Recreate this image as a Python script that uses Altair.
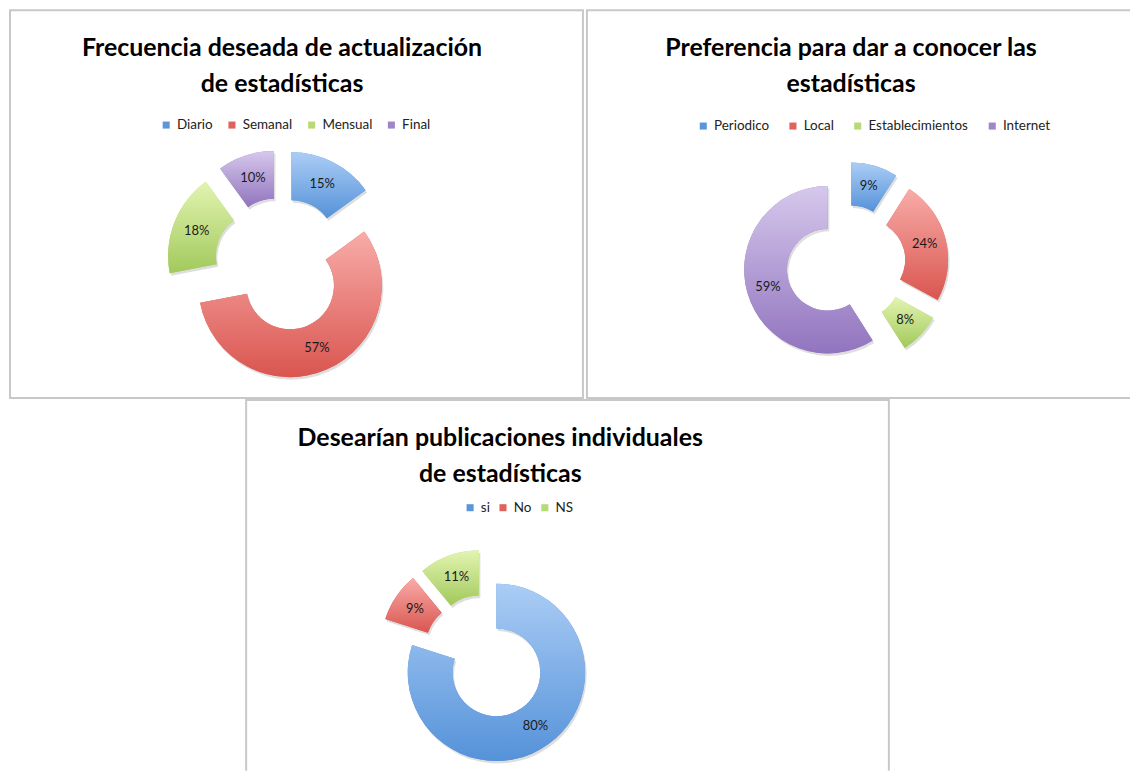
import math
import altair as alt
import pandas as pd

# ---- data ----
freq_cats = ["Diario", "Semanal", "Mensual", "Final"]
freq_vals = [15, 57, 18, 10]

pref_cats = ["Periodico", "Local", "Establecimientos", "Internet"]
pref_vals = [9, 24, 8, 59]

pub_cats = ["si", "No", "NS"]
pub_vals = [80, 9, 11]

freq_title = ["Frecuencia deseada de actualización", "de estadísticas"]
pref_title = ["Preferencia para dar a conocer las", "estadísticas"]
pub_title = ["Desearían publicaciones individuales", "de estadísticas"]

# ---- styles ----
FONT = "Lato"
BORDER = "#c8c8c8"
BLUE = ("#abcdf5", "#5592d9", "#5b96da")
RED = ("#f8aca8", "#da5550", "#e0625d")
GREEN = ("#e2f4b0", "#a2c95c", "#b8d977")
PURPLE = ("#d6c8ec", "#9174be", "#9f86c8")

freq_pal = [BLUE, RED, GREEN, PURPLE]
pref_pal = [BLUE, RED, GREEN, PURPLE]
pub_pal = [BLUE, RED, GREEN]


def grad(top, bottom):
    return {
        "gradient": "linear",
        "x1": 0, "y1": 0, "x2": 0, "y2": 1,
        "stops": [{"offset": 0, "color": top}, {"offset": 1, "color": bottom}],
    }


def frame(W, H, sides):
    one = pd.DataFrame({"t": [0]})
    out = []
    for s in sides:
        rule = alt.Chart(one).mark_rule(color=BORDER, strokeWidth=2)
        if s == "top":
            rule = rule.encode(x=alt.value(-1), x2=alt.value(W + 1), y=alt.value(0))
        elif s == "bottom":
            rule = rule.encode(x=alt.value(-1), x2=alt.value(W + 1), y=alt.value(H))
        elif s == "left":
            rule = rule.encode(x=alt.value(0), y=alt.value(0), y2=alt.value(H))
        else:
            rule = rule.encode(x=alt.value(W), y=alt.value(0), y2=alt.value(H))
        out.append(rule)
    return out


def panel(cats, vals, pal, lines, W, H, cx, cy, R, r, D, tx, ty, lx, ly, colpad, sides):
    total = float(sum(vals))
    df = pd.DataFrame({"cat": cats, "val": vals, "k": list(range(len(cats)))})
    base = (
        alt.Chart(df)
        .transform_window(end="sum(val)", sort=[alt.SortField("k")], frame=[None, 0])
        .transform_calculate(start="datum.end - datum.val")
        .transform_calculate(mid="datum.end - datum.val / 2")
        .transform_calculate(lab="datum.val + '%'")
        .transform_calculate(ang=f"datum.mid / {total} * 2 * PI")
        .transform_calculate(px=f"{cx} + {D} * sin(datum.ang)")
        .transform_calculate(py=f"{cy} - {D} * cos(datum.ang)")
        .transform_calculate(sx="datum.px + 1.5", sy="datum.py + 2.5")
    )
    tscale = alt.Scale(domain=[0, total], range=[0, 2 * math.pi])
    pos = dict(
        x=alt.X("px:Q", scale=None, axis=None),
        y=alt.Y("py:Q", scale=None, axis=None),
    )
    shadow = base.mark_arc(outerRadius=R, innerRadius=r, fill="#000000", opacity=0.13).encode(
        theta=alt.Theta("start:Q", scale=tscale, stack=None),
        theta2="end:Q",
        x=alt.X("sx:Q", scale=None, axis=None),
        y=alt.Y("sy:Q", scale=None, axis=None),
    )
    solid = base.mark_arc(outerRadius=R, innerRadius=r).encode(
        theta=alt.Theta("start:Q", scale=tscale, stack=None),
        theta2="end:Q",
        color=alt.Color(
            "cat:N",
            scale=alt.Scale(domain=cats, range=[p[2] for p in pal]),
            legend=alt.Legend(
                orient="none", legendX=lx, legendY=ly, direction="horizontal",
                columns=len(cats), title=None, symbolType="square", symbolSize=50,
                symbolStrokeWidth=0, labelFont=FONT, labelFontSize=13.5,
                labelColor="#222222", labelOffset=4, columnPadding=colpad,
            ),
        ),
        **pos,
    )
    conds = [
        {"test": f"datum.cat === '{c}'", "value": grad(p[0], p[1])}
        for c, p in zip(cats[:-1], pal[:-1])
    ]
    gfill = {"condition": conds, "value": grad(pal[-1][0], pal[-1][1])}
    shaded = base.mark_arc(outerRadius=R, innerRadius=r).encode(
        theta=alt.Theta("start:Q", scale=tscale, stack=None),
        theta2="end:Q",
        fill=gfill,
        **pos,
    )
    labels = base.mark_text(
        font=FONT, fontSize=13, color="#1a1a1a", radius=(R + r) / 2
    ).encode(
        theta=alt.Theta("mid:Q", scale=tscale, stack=None),
        text="lab:N",
        **pos,
    )
    title = alt.Chart(pd.DataFrame({"t": [0]})).mark_text(
        font=FONT, fontSize=25, fontWeight="bold", color="#000000",
        lineHeight=36, baseline="middle", align="center",
    ).encode(x=alt.value(tx), y=alt.value(ty), text=alt.value(lines))
    layers = [shadow, solid, shaded, labels, title] + frame(W, H, sides)
    return alt.layer(*layers).properties(width=W, height=H)


p1 = panel(freq_cats, freq_vals, freq_pal, freq_title,
           575, 389, 272, 255, 92, 44, 23, 273, 38, 150, 108, 12,
           ["top", "bottom", "left", "right"])
p2 = panel(pref_cats, pref_vals, pref_pal, pref_title,
           544, 389, 260, 255, 84, 41, 19, 265, 38, 110, 109, 17,
           ["top", "bottom", "left"])
p3 = panel(pub_cats, pub_vals, pub_pal, pub_title,
           645, 372, 240, 258, 89, 44, 19, 255, 38, 218, 101, 6,
           ["top", "left", "right"])

spacer = alt.Chart(pd.DataFrame({"t": [0]})).mark_point(opacity=0, size=1).encode(
    x=alt.value(100), y=alt.value(100)
).properties(width=235, height=372)

top = alt.hconcat(p1, p2, spacing=0).resolve_scale(color="independent", theta="independent")
bottom = alt.hconcat(spacer, p3, spacing=0).resolve_scale(color="independent", theta="independent")

chart = (
    alt.vconcat(top, bottom, spacing=0)
    .resolve_scale(color="independent", theta="independent")
    .properties(padding=0, background="white")
    .configure_view(strokeOpacity=0)
)

chart.save("out.html", embed_options={"renderer": "svg", "actions": False})
